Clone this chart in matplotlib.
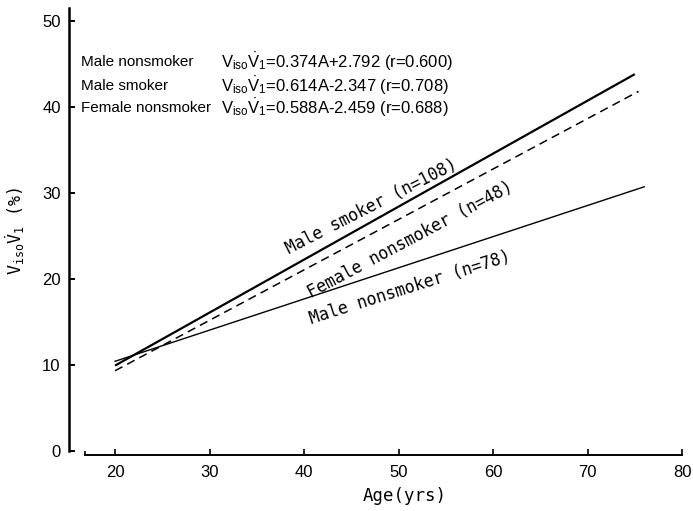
import numpy as np
import matplotlib
matplotlib.use("Agg")
import matplotlib.pyplot as plt

# regression lines, end points (age, Viso V1 %)
smoker_x = [20, 75]
smoker_y = [9.9, 43.8]
female_x = [20, 75.4]
female_y = [9.3, 41.8]
nonsmoker_x = [20, 76]
nonsmoker_y = [10.4, 30.7]

groups = ["Male nonsmoker", "Male smoker", "Female nonsmoker"]
equations = ["=0.374A+2.792 (r=0.600)",
             "=0.614A-2.347 (r=0.708)",
             "=0.588A-2.459 (r=0.688)"]

xticks = [20, 30, 40, 50, 60, 70, 80]
yticks = [0, 10, 20, 30, 40, 50]

mono = "DejaVu Sans Mono"
sans = "Liberation Sans"

fig = plt.figure(figsize=(6.93, 5.11), dpi=100)
ax = fig.add_axes([0.0996, 0.1096, 0.8846, 0.8748])

ax.plot(smoker_x, smoker_y, color="black", lw=1.6, solid_capstyle="butt")
ax.plot(female_x, female_y, color="black", lw=1.1, linestyle=(0, (5.5, 3.5)))
ax.plot(nonsmoker_x, nonsmoker_y, color="black", lw=1.0)

ax.set_xlim(15.13, 80)
ax.set_ylim(-0.5, 51.5)

for s in ["top", "right"]:
    ax.spines[s].set_visible(False)
ax.spines["left"].set_linewidth(1.8)
ax.spines["left"].set_bounds(0, 51.5)
ax.spines["bottom"].set_linewidth(1.4)
ax.spines["bottom"].set_bounds(16.8, 80)

ax.set_xticks(xticks)
ax.set_xticks([16.8], minor=True)
ax.set_yticks(yticks)
ax.tick_params(axis="x", which="major", direction="in", length=4, width=1.2,
               pad=7, labelsize=12)
ax.tick_params(axis="x", which="minor", direction="in", length=3, width=1.2)
ax.tick_params(axis="y", direction="in", length=4, width=1.4, pad=6,
               labelsize=12)
for lab in ax.get_xticklabels() + ax.get_yticklabels():
    lab.set_fontfamily(sans)

ax.set_xlabel("Age(yrs)", fontfamily=mono, fontsize=12.5)
ax.xaxis.set_label_coords(0.548, -0.072)
ax.set_ylabel(r"$\mathregular{V_{iso}\dot{V}_1}$ (%)", fontfamily=mono,
              fontsize=12)
ax.yaxis.set_label_coords(-0.068, 0.50)

# equation block
row_y = [45.2, 42.4, 39.9]
for g, eq, yy in zip(groups, equations, row_y):
    ax.text(16.4, yy, g, fontfamily=sans, fontsize=11, va="center")
    ax.text(31.25, yy, r"$\mathregular{V_{iso}\dot{V}_1}$" + eq,
            fontfamily=sans, fontsize=12, va="center")

# labels along lines
ax.text(47.1, 28.4, "Male smoker (n=108)", rotation=27, fontfamily=mono,
        fontsize=12, ha="center", va="center", rotation_mode="anchor")
ax.text(51.2, 24.5, "Female nonsmoker (n=48)", rotation=28, fontfamily=mono,
        fontsize=12, ha="center", va="center", rotation_mode="anchor")
ax.text(51.2, 18.9, "Male nonsmoker (n=78)", rotation=17.5, fontfamily=mono,
        fontsize=12, ha="center", va="center", rotation_mode="anchor")

fig.savefig("out.png", dpi=100)
